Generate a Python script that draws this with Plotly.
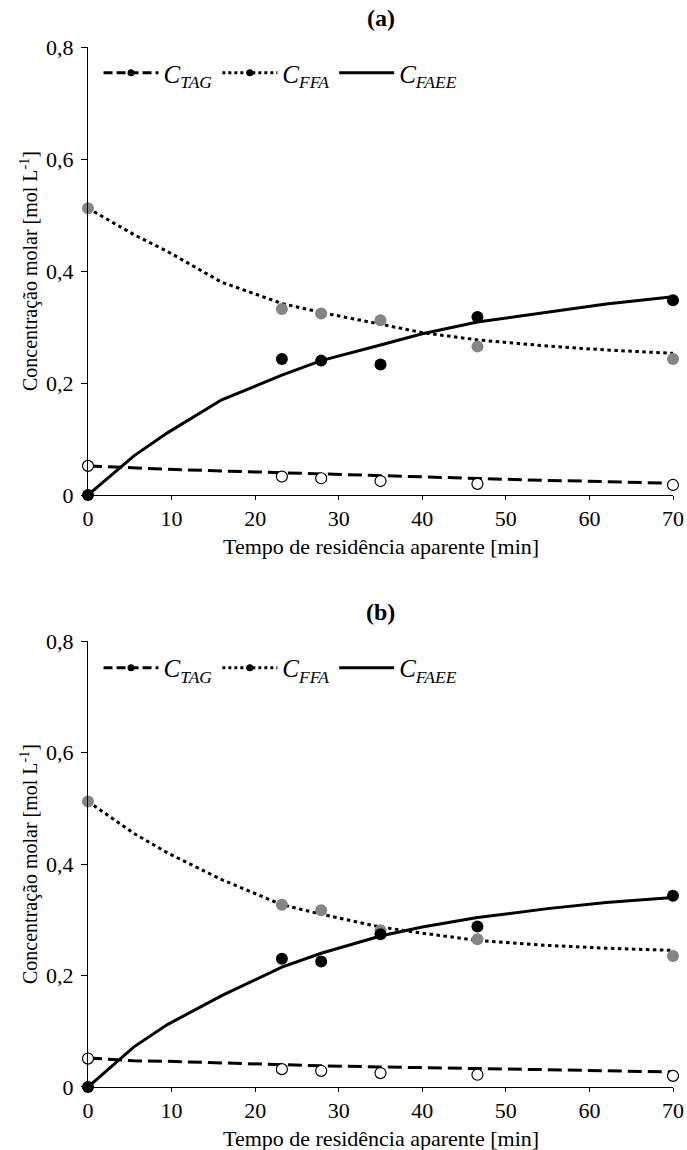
import plotly.graph_objects as go

# ---------------- data ----------------
t_exp = [0.0, 23.2, 27.9, 35.0, 46.6, 70.0]

tag_a = [0.052, 0.033, 0.030, 0.025, 0.020, 0.018]
ffa_a = [0.512, 0.332, 0.324, 0.312, 0.265, 0.243]
faee_a = [0.0, 0.243, 0.240, 0.233, 0.318, 0.348]

tag_b = [0.051, 0.032, 0.029, 0.025, 0.022, 0.020]
ffa_b = [0.512, 0.327, 0.317, 0.281, 0.265, 0.235]
faee_b = [0.0, 0.230, 0.225, 0.274, 0.288, 0.343]

t_model = [0, 5.5, 9.5, 16, 23.2, 27.9, 35, 40, 46.6, 55, 62, 70]

tag_a_model = [0.052, 0.048, 0.046, 0.043, 0.040, 0.038, 0.034, 0.032, 0.029, 0.026, 0.024, 0.021]
ffa_a_model = [0.512, 0.465, 0.435, 0.380, 0.342, 0.326, 0.305, 0.290, 0.277, 0.266, 0.259, 0.253]
faee_a_model = [0.0, 0.070, 0.111, 0.170, 0.214, 0.240, 0.268, 0.288, 0.309, 0.327, 0.341, 0.354]

tag_b_model = [0.052, 0.047, 0.046, 0.043, 0.039, 0.038, 0.036, 0.035, 0.033, 0.031, 0.029, 0.027]
ffa_b_model = [0.512, 0.455, 0.420, 0.372, 0.327, 0.310, 0.287, 0.276, 0.263, 0.254, 0.249, 0.245]
faee_b_model = [0.0, 0.072, 0.112, 0.164, 0.215, 0.240, 0.271, 0.287, 0.304, 0.320, 0.331, 0.340]

x_ticks = [0, 10, 20, 30, 40, 50, 60, 70]
y_ticks = [0, 0.2, 0.4, 0.6, 0.8]
y_ticktext = ["0", "0,2", "0,4", "0,6", "0,8"]

legend_names = ["<i>C</i><sub><i>TAG</i></sub>",
                "<i>C</i><sub><i>FFA</i></sub>",
                "<i>C</i><sub><i>FAEE</i></sub>"]
x_title = "Tempo de residência aparente [min]"
y_title = "Concentração molar [mol L<sup>-1</sup>]"
panel_titles = ["<b>(a)</b>", "<b>(b)</b>"]

FONT = "Liberation Serif, Times New Roman, serif"
DASH = "14px,6px"
DOT = "3.5px,3.5px"
LW = 3

fig = go.Figure()

panels = [
    ("x", "y", "legend", tag_a_model, ffa_a_model, faee_a_model, tag_a, ffa_a, faee_a),
    ("x2", "y2", "legend2", tag_b_model, ffa_b_model, faee_b_model, tag_b, ffa_b, faee_b),
]

for xa, ya, lg, tagm, ffam, faeem, tag, ffa, faee in panels:
    # model lines
    fig.add_trace(go.Scatter(x=t_model, y=tagm, mode="lines", xaxis=xa, yaxis=ya,
                             line=dict(color="black", width=LW, dash=DASH), showlegend=False))
    fig.add_trace(go.Scatter(x=t_model, y=ffam, mode="lines", xaxis=xa, yaxis=ya,
                             line=dict(color="black", width=LW, dash=DOT), showlegend=False))
    fig.add_trace(go.Scatter(x=t_model, y=faeem, mode="lines", xaxis=xa, yaxis=ya,
                             line=dict(color="black", width=LW), showlegend=False))
    # experimental points
    fig.add_trace(go.Scatter(x=t_exp, y=tag, mode="markers", xaxis=xa, yaxis=ya, cliponaxis=False,
                             marker=dict(size=11, color="white", line=dict(color="black", width=1.2)),
                             showlegend=False))
    fig.add_trace(go.Scatter(x=t_exp, y=ffa, mode="markers", xaxis=xa, yaxis=ya, cliponaxis=False,
                             marker=dict(size=12, color="#858585"), showlegend=False))
    fig.add_trace(go.Scatter(x=t_exp, y=faee, mode="markers", xaxis=xa, yaxis=ya, cliponaxis=False,
                             marker=dict(size=12, color="black"), showlegend=False))
    # legend entries
    fig.add_trace(go.Scatter(x=[None], y=[None], mode="lines+markers", xaxis=xa, yaxis=ya,
                             name=legend_names[0], legend=lg,
                             line=dict(color="black", width=LW, dash="9px,4px"),
                             marker=dict(size=7, color="black")))
    fig.add_trace(go.Scatter(x=[None], y=[None], mode="lines+markers", xaxis=xa, yaxis=ya,
                             name=legend_names[1], legend=lg,
                             line=dict(color="black", width=LW, dash="3px,3px"),
                             marker=dict(size=7, color="black")))
    fig.add_trace(go.Scatter(x=[None], y=[None], mode="lines", xaxis=xa, yaxis=ya,
                             name=legend_names[2], legend=lg,
                             line=dict(color="black", width=LW)))

xax = dict(range=[0, 70], tickvals=x_ticks, ticks="outside", ticklen=4, tickcolor="black",
           showline=True, linecolor="black", linewidth=1, showgrid=False, zeroline=False,
           automargin=False, ticklabelstandoff=0,
           tickfont=dict(size=22))
yax = dict(range=[0, 0.8], tickvals=y_ticks, ticktext=y_ticktext, ticks="outside", ticklen=6,
           tickcolor="black", showline=True, linecolor="black", linewidth=1, showgrid=False,
           zeroline=False, automargin=False, ticklabelstandoff=3,
           tickfont=dict(size=22))

leg = dict(orientation="h", x=0.018, xanchor="left", yanchor="middle",
           bgcolor="rgba(0,0,0,0)", font=dict(size=25, family=FONT),
           itemwidth=55, tracegroupgap=0, itemclick=False)

annotations = []
for i, (xr, yr) in enumerate([("x", "y"), ("x2", "y2")]):
    annotations.append(dict(text=panel_titles[i], x=0.5, y=1.0, xref=f"{xr} domain",
                            yref=f"{yr} domain", yshift=29, showarrow=False,
                            font=dict(size=24), yanchor="middle"))
    annotations.append(dict(text=x_title, x=0.5, y=0.0, xref=f"{xr} domain",
                            yref=f"{yr} domain", yshift=-51, showarrow=False,
                            font=dict(size=22), yanchor="middle"))
    annotations.append(dict(text=y_title, x=0.0, y=0.5, xref=f"{xr} domain",
                            yref=f"{yr} domain", xshift=-59, showarrow=False,
                            textangle=-90, font=dict(size=20), xanchor="center",
                            yanchor="middle"))

fig.update_layout(
    width=687, height=1150,
    margin=dict(l=88, r=14, t=47, b=63, autoexpand=False),
    paper_bgcolor="white", plot_bgcolor="white",
    font=dict(family=FONT, size=20, color="black"),
    xaxis=dict(domain=[0, 1], anchor="y", **xax),
    yaxis=dict(domain=[0.5692, 1.0], anchor="x", **yax),
    xaxis2=dict(domain=[0, 1], anchor="y2", **xax),
    yaxis2=dict(domain=[0.0, 0.4288], anchor="x2", **yax),
    legend=dict(y=0.975, **leg),
    legend2=dict(y=0.403, **leg),
    annotations=annotations,
)

fig.write_html("out.html", config={"displayModeBar": False},
               post_script="document.body.style.margin='0';document.body.style.overflow='hidden';")
